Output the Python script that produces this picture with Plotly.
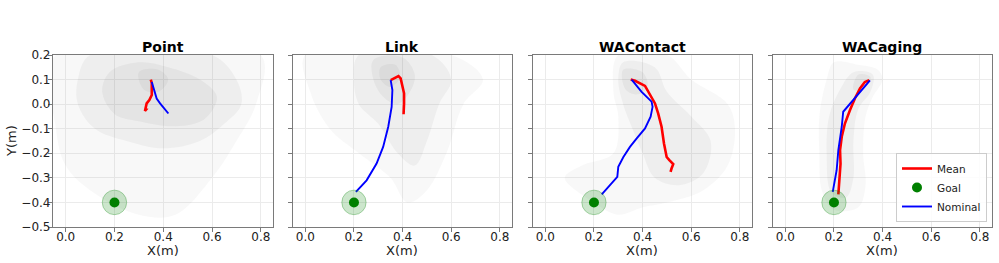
import plotly.graph_objects as go

# ---------------- data ----------------
panels = ["Point", "Link", "WAContact", "WACaging"]
goal_x, goal_y, goal_r = 0.2, -0.4, 0.05

mean_x = {
    "Point": [0.349, 0.353, 0.353, 0.343, 0.332, 0.330, 0.325, 0.330, 0.322],
    "Link": [0.351, 0.369, 0.383, 0.392, 0.399, 0.406, 0.406, 0.404],
    "WAContact": [0.351, 0.369, 0.410, 0.430, 0.451, 0.464, 0.478, 0.488, 0.499, 0.510, 0.526, 0.519, 0.515],
    "WACaging": [0.345, 0.327, 0.307, 0.286, 0.266, 0.245, 0.232, 0.225, 0.227, 0.222, 0.218],
}
mean_y = {
    "Point": [0.100, 0.085, 0.037, 0.017, 0.003, -0.010, -0.028, -0.022, -0.020],
    "Link": [0.098, 0.109, 0.114, 0.105, 0.078, 0.044, 0.003, -0.041],
    "WAContact": [0.100, 0.095, 0.074, 0.037, 0.003, -0.038, -0.092, -0.160, -0.215, -0.228, -0.244, -0.262, -0.276],
    "WACaging": [0.097, 0.090, 0.064, 0.023, -0.024, -0.079, -0.133, -0.187, -0.242, -0.310, -0.367],
}
nom_x = {
    "Point": [0.353, 0.362, 0.373, 0.387, 0.403, 0.421],
    "Link": [0.351, 0.358, 0.355, 0.341, 0.320, 0.293, 0.252, 0.208],
    "WAContact": [0.355, 0.396, 0.437, 0.441, 0.433, 0.410, 0.375, 0.348, 0.321, 0.300, 0.296, 0.266, 0.232],
    "WACaging": [0.348, 0.320, 0.273, 0.241, 0.238, 0.232, 0.218, 0.211, 0.195],
}
nom_y = {
    "Point": [0.090, 0.057, 0.023, 0.003, -0.017, -0.038],
    "Link": [0.098, 0.057, -0.011, -0.092, -0.174, -0.242, -0.310, -0.357],
    "WAContact": [0.100, 0.050, 0.010, -0.011, -0.051, -0.099, -0.140, -0.174, -0.215, -0.255, -0.296, -0.330, -0.367],
    "WACaging": [0.097, 0.064, 0.010, -0.027, -0.031, -0.092, -0.187, -0.269, -0.357],
}

# rollout cloud outlines (outer -> core)
cloud = {
    "Point": [
        ([-0.04, 0.80, 0.78, 0.70, 0.60, 0.45, 0.30, 0.10, 0.00, -0.04],
         [0.20, 0.20, 0.00, -0.15, -0.30, -0.45, -0.45, -0.35, -0.25, -0.10]),
        ([0.10, 0.60, 0.70, 0.72, 0.65, 0.55, 0.40, 0.25, 0.12, 0.05, 0.05],
         [0.20, 0.20, 0.10, 0.00, -0.08, -0.15, -0.18, -0.15, -0.10, 0.00, 0.10]),
        ([0.18, 0.30, 0.42, 0.55, 0.62, 0.57, 0.45, 0.30, 0.20, 0.15],
         [0.13, 0.17, 0.15, 0.10, 0.03, -0.06, -0.09, -0.07, -0.04, 0.05]),
        ([0.30, 0.38, 0.42, 0.38, 0.32],
         [0.13, 0.14, 0.10, 0.05, 0.06]),
    ],
    "Link": [
        ([0.00, 0.60, 0.73, 0.65, 0.58, 0.50, 0.42, 0.35, 0.22, 0.10, 0.02],
         [0.20, 0.20, 0.10, 0.00, -0.20, -0.35, -0.40, -0.30, -0.20, -0.10, 0.05]),
        ([0.22, 0.52, 0.60, 0.55, 0.50, 0.45, 0.38, 0.30, 0.22, 0.20],
         [0.20, 0.20, 0.10, 0.00, -0.15, -0.25, -0.20, -0.08, 0.00, 0.10]),
        ([0.28, 0.40, 0.45, 0.43, 0.38, 0.32, 0.28],
         [0.18, 0.19, 0.12, 0.05, 0.00, 0.03, 0.10]),
        ([0.31, 0.37, 0.39, 0.35, 0.31],
         [0.15, 0.16, 0.11, 0.07, 0.10]),
    ],
    "WAContact": [
        ([0.30, 0.50, 0.60, 0.75, 0.78, 0.75, 0.65, 0.50, 0.40, 0.30, 0.20, 0.08, 0.15, 0.28, 0.30, 0.28],
         [0.20, 0.20, 0.10, 0.00, -0.10, -0.25, -0.35, -0.40, -0.42, -0.45, -0.40, -0.30, -0.25, -0.20, -0.05, 0.05]),
        ([0.32, 0.45, 0.50, 0.60, 0.68, 0.65, 0.55, 0.45, 0.40, 0.35, 0.32, 0.30],
         [0.17, 0.15, 0.05, -0.05, -0.15, -0.28, -0.33, -0.30, -0.20, -0.08, 0.00, 0.10]),
        ([0.32, 0.40, 0.42, 0.38, 0.33],
         [0.14, 0.13, 0.07, 0.04, 0.06]),
    ],
    "WACaging": [
        ([0.20, 0.30, 0.38, 0.40, 0.36, 0.33, 0.32, 0.33, 0.30, 0.20, 0.15, 0.14, 0.14, 0.17],
         [0.17, 0.16, 0.14, 0.10, 0.03, -0.05, -0.20, -0.33, -0.42, -0.43, -0.35, -0.20, -0.05, 0.10]),
        ([0.28, 0.36, 0.35, 0.30, 0.28, 0.28, 0.25, 0.19, 0.17, 0.18, 0.22],
         [0.13, 0.12, 0.05, -0.02, -0.15, -0.30, -0.38, -0.36, -0.20, -0.05, 0.05]),
        ([0.30, 0.35, 0.32, 0.28],
         [0.12, 0.11, 0.06, 0.06]),
    ],
}

x_ticks = [0.0, 0.2, 0.4, 0.6, 0.8]
y_ticks = [0.2, 0.1, 0.0, -0.1, -0.2, -0.3, -0.4, -0.5]

# ---------------- figure ----------------
W, H = 999, 263
doms = [(53, 273), (292.7, 512), (532.7, 752), (772.7, 992)]
ytop, ybot = 55, 227

fig = go.Figure()
FONT = "DejaVu Sans"
frame = "#7a7a7a"
cloud_alpha = [0.05, 0.065, 0.075, 0.08]

for i, p in enumerate(panels):
    xa = "x" if i == 0 else f"x{i+1}"
    ya = "y" if i == 0 else f"y{i+1}"
    for k, (cx, cy) in enumerate(cloud[p]):
        fig.add_trace(go.Scatter(x=cx + [cx[0]], y=cy + [cy[0]], mode="lines",
                                 line=dict(width=0, shape="spline", smoothing=1.0),
                                 fill="toself",
                                 fillcolor=f"rgba(110,110,110,{cloud_alpha[min(k,3)]})",
                                 hoverinfo="skip", showlegend=False, xaxis=xa, yaxis=ya))
    fig.add_shape(type="circle", xref=xa, yref=ya,
                  x0=goal_x - goal_r, x1=goal_x + goal_r,
                  y0=goal_y - goal_r, y1=goal_y + goal_r,
                  fillcolor="rgba(0,128,0,0.2)", line=dict(color="rgba(0,128,0,0.3)", width=1))
    fig.add_trace(go.Scatter(x=mean_x[p], y=mean_y[p], mode="lines", name="Mean",
                             line=dict(color="red", width=2.6),
                             showlegend=(i == 3), legendrank=1, xaxis=xa, yaxis=ya))
    fig.add_trace(go.Scatter(x=[goal_x], y=[goal_y], mode="markers", name="Goal",
                             marker=dict(color="green", size=10),
                             showlegend=(i == 3), legendrank=2, xaxis=xa, yaxis=ya))
    fig.add_trace(go.Scatter(x=nom_x[p], y=nom_y[p], mode="lines", name="Nominal",
                             line=dict(color="blue", width=1.9),
                             showlegend=(i == 3), legendrank=3, xaxis=xa, yaxis=ya))

    x0, x1 = doms[i]
    axkw = dict(domain=[x0 / W, x1 / W], anchor=ya, range=[-0.052, 0.85],
                tickvals=x_ticks, ticktext=[f"{v:.1f}" for v in x_ticks],
                ticks="outside", ticklen=4, tickcolor=frame, showline=True, mirror=True,
                linecolor=frame, linewidth=1.2, showgrid=True, gridcolor="#ebebeb",
                zeroline=False, automargin=False, ticklabelstandoff=-6,
                tickfont=dict(family=FONT, size=12, color="#222"))
    aykw = dict(domain=[1 - ybot / H, 1 - ytop / H], anchor=xa, range=[-0.5, 0.2],
                tickvals=y_ticks, ticktext=[f"{v:.1f}".replace("-", "\u2212") for v in y_ticks],
                ticks="outside", ticklen=4, tickcolor=frame, showline=True, mirror=True,
                linecolor=frame, linewidth=1.2, showgrid=True, gridcolor="#ebebeb",
                zeroline=False, showticklabels=(i == 0), automargin=False,
                ticklabelstandoff=-5,
                tickfont=dict(family=FONT, size=12, color="#222"))
    fig.layout[("xaxis" if i == 0 else f"xaxis{i+1}")] = axkw
    fig.layout[("yaxis" if i == 0 else f"yaxis{i+1}")] = aykw

    fig.add_annotation(text=f"<b>{p}</b>", x=(x0 + x1) / 2 / W, y=1 - 47 / H,
                       xref="paper", yref="paper", showarrow=False,
                       xanchor="center", yanchor="middle",
                       font=dict(family=FONT, size=14, color="black"))
    fig.add_annotation(text="X(m)", x=(x0 + x1) / 2 / W, y=1 - 250 / H,
                       xref="paper", yref="paper", showarrow=False,
                       xanchor="center", yanchor="middle",
                       font=dict(family=FONT, size=13, color="#222"))

fig.add_annotation(text="Y(m)", x=11 / W, y=1 - 141 / H, xref="paper", yref="paper",
                   showarrow=False, textangle=-90, xanchor="center", yanchor="middle",
                   font=dict(family=FONT, size=13, color="#222"))

fig.update_layout(
    width=W, height=H, margin=dict(l=0, r=0, t=0, b=0, autoexpand=False),
    paper_bgcolor="white", plot_bgcolor="white",
    legend=dict(x=987 / W, y=1 - 222 / H, xanchor="right", yanchor="bottom",
                bgcolor="rgba(255,255,255,0.85)", bordercolor="#cccccc", borderwidth=1,
                font=dict(family=FONT, size=10.5, color="#222"),
                itemwidth=30, tracegroupgap=0),
    showlegend=True,
)

fig.write_html("out.html")
